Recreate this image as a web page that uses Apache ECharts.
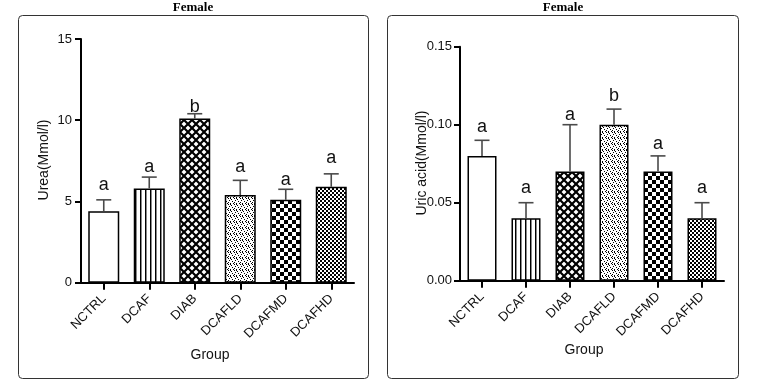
<!DOCTYPE html>
<html>
<head>
<meta charset="utf-8">
<script src="https://cdn.jsdelivr.net/npm/echarts@6/dist/echarts.min.js"></script>
<style>
html,body{margin:0;padding:0;background:#fff;}
#chart{width:758px;height:392px;}
</style>
</head>
<body>
<div id="chart"></div>
<script>
// ---- data ----
const categories = ['NCTRL', 'DCAF', 'DIAB', 'DCAFLD', 'DCAFMD', 'DCAFHD'];
const ureaMean = [4.4, 5.8, 10.1, 5.4, 5.1, 5.9];
const ureaErrTop = [5.1, 6.5, 10.4, 6.3, 5.75, 6.7];
const ureaLetters = ['a', 'a', 'b', 'a', 'a', 'a'];
const ureaLetterAt = [6.0, 7.13, 10.8, 7.13, 6.31, 7.66];
const uricMean = [0.08, 0.04, 0.07, 0.10, 0.07, 0.04];
const uricErrTop = [0.09, 0.05, 0.10, 0.11, 0.08, 0.05];
const uricLetters = ['a', 'a', 'a', 'b', 'a', 'a'];
const uricLetterAt = [0.0987, 0.0592, 0.1062, 0.1186, 0.0876, 0.0592];
const ureaTicks = [0, 5, 10, 15];
const uricTicks = ['0.00', '0.05', '0.10', '0.15'];

// ---- patterns ----
function tile(w, h, draw) {
  const c = document.createElement('canvas');
  c.width = w; c.height = h;
  const ctx = c.getContext('2d');
  ctx.fillStyle = '#fff'; ctx.fillRect(0, 0, w, h);
  ctx.fillStyle = '#000';
  draw(ctx);
  return { image: c, repeat: 'repeat' };
}
const patWhite = '#ffffff';
const patVert = tile(5, 5, ctx => { ctx.fillRect(0, 0, 1, 5); ctx.fillStyle = '#888'; ctx.fillRect(1, 0, 1, 5); });
const patCross = tile(8, 8, ctx => {
  ctx.strokeStyle = '#000'; ctx.lineWidth = 2.2;
  ctx.beginPath();
  ctx.moveTo(-1, -1); ctx.lineTo(9, 9);
  ctx.moveTo(9, -1); ctx.lineTo(-1, 9);
  ctx.stroke();
});
const patDots = tile(6, 6, ctx => {
  [[0,0],[3,1],[1,2],[4,3],[0,4],[2,5],[5,5],[2,0]].forEach(p => ctx.fillRect(p[0], p[1], 1, 1));
});
const patCheckBig = tile(8, 8, ctx => { ctx.fillRect(0, 0, 4, 4); ctx.fillRect(4, 4, 4, 4); });
const patCheckSmall = tile(4, 4, ctx => { ctx.fillRect(0, 0, 2, 2); ctx.fillRect(2, 2, 2, 2); });
const patterns = [patWhite, patVert, patCross, patDots, patCheckBig, patCheckSmall];

const FONT = 'Arial, "Liberation Sans", sans-serif';

function barData(vals) {
  return vals.map((v, i) => ({ value: v, itemStyle: { color: patterns[i] } }));
}
function errRender(params, api) {
  const i = api.value(0);
  const p0 = api.coord([i, api.value(1)]);
  const p1 = api.coord([i, api.value(2)]);
  const st = { stroke: '#4a4a4a', lineWidth: 1.6 };
  return {
    type: 'group',
    children: [
      { type: 'line', shape: { x1: p0[0], y1: p0[1], x2: p1[0], y2: p1[1] }, style: st },
      { type: 'line', shape: { x1: p1[0] - 7.5, y1: p1[1], x2: p1[0] + 7.5, y2: p1[1] }, style: st }
    ]
  };
}
function letterRender(letters) {
  return function (params, api) {
    const i = api.value(0);
    const p = api.coord([i, api.value(1)]);
    return {
      type: 'text', x: p[0], y: p[1],
      style: { text: letters[params.dataIndex], fontSize: 18, fontFamily: FONT, fill: '#111', align: 'center', verticalAlign: 'middle' }
    };
  };
}

const axisLine = { show: true, lineStyle: { color: '#000', width: 2 } };
const axisTick = { show: true, length: 6, lineStyle: { color: '#000', width: 2 } };

const chart = echarts.init(document.getElementById('chart'), null, { renderer: 'canvas' });
chart.setOption({
  backgroundColor: '#fff',
  animation: false,
  grid: [
    { left: 81, right: 404, top: 39, bottom: 109.3, outerBoundsMode: 'none' },
    { left: 460, right: 34, top: 46.7, bottom: 111.3, outerBoundsMode: 'none' }
  ],
  xAxis: [0, 1].map(g => ({
    type: 'category', gridIndex: g, data: categories,
    axisLine: axisLine,
    axisTick: Object.assign({ alignWithLabel: true }, axisTick, { length: 7 }),
    axisLabel: { rotate: 45, fontSize: 13, fontFamily: FONT, color: '#111', margin: 14, interval: 0 },
    splitLine: { show: false }
  })),
  yAxis: [
    {
      type: 'value', gridIndex: 0, min: 0, max: 15, interval: 5,
      axisLine: axisLine, axisTick: axisTick, splitLine: { show: false },
      axisLabel: { fontSize: 13, fontFamily: FONT, color: '#111', margin: 9,
        formatter: v => String(ureaTicks[Math.round(v / 5)]) }
    },
    {
      type: 'value', gridIndex: 1, min: 0, max: 0.15, interval: 0.05,
      axisLine: axisLine, axisTick: axisTick, splitLine: { show: false },
      axisLabel: { fontSize: 13, fontFamily: FONT, color: '#111', margin: 8,
        formatter: v => uricTicks[Math.round(v / 0.05)] }
    }
  ],
  series: [
    { type: 'bar', xAxisIndex: 0, yAxisIndex: 0, barWidth: 31, data: barData(ureaMean),
      itemStyle: { borderColor: '#000', borderWidth: 1.5 }, z: 2 },
    { type: 'custom', xAxisIndex: 0, yAxisIndex: 0, renderItem: errRender,
      data: ureaMean.map((v, i) => [i, v, ureaErrTop[i]]), z: 3 },
    { type: 'custom', xAxisIndex: 0, yAxisIndex: 0, renderItem: letterRender(ureaLetters),
      data: ureaLetterAt.map((v, i) => [i, v]), z: 4 },
    { type: 'bar', xAxisIndex: 1, yAxisIndex: 1, barWidth: 29, data: barData(uricMean),
      itemStyle: { borderColor: '#000', borderWidth: 1.5 }, z: 2 },
    { type: 'custom', xAxisIndex: 1, yAxisIndex: 1, renderItem: errRender,
      data: uricMean.map((v, i) => [i, v, uricErrTop[i]]), z: 3 },
    { type: 'custom', xAxisIndex: 1, yAxisIndex: 1, renderItem: letterRender(uricLetters),
      data: uricLetterAt.map((v, i) => [i, v]), z: 4 }
  ],
  graphic: [
    { type: 'rect', shape: { x: 18.5, y: 15.5, width: 350, height: 363, r: 4 }, style: { fill: 'none', stroke: '#333', lineWidth: 1 }, z: 0 },
    { type: 'rect', shape: { x: 387.5, y: 15.5, width: 351, height: 363, r: 4 }, style: { fill: 'none', stroke: '#333', lineWidth: 1 }, z: 0 },
    { type: 'text', x: 193, y: 8, style: { text: 'Female', font: 'bold 13px "Liberation Serif", "Times New Roman", serif', fill: '#000', align: 'center', verticalAlign: 'middle' } },
    { type: 'text', x: 563, y: 8, style: { text: 'Female', font: 'bold 13px "Liberation Serif", "Times New Roman", serif', fill: '#000', align: 'center', verticalAlign: 'middle' } },
    { type: 'text', x: 44, y: 160, rotation: Math.PI / 2, style: { text: 'Urea(Mmol/l)', fontSize: 14, fontFamily: FONT, fill: '#111', align: 'center', verticalAlign: 'middle' } },
    { type: 'text', x: 422, y: 163, rotation: Math.PI / 2, style: { text: 'Uric acid(Mmol/l)', fontSize: 14, fontFamily: FONT, fill: '#111', align: 'center', verticalAlign: 'middle' } },
    { type: 'text', x: 210, y: 355, style: { text: 'Group', fontSize: 14, fontFamily: FONT, fill: '#111', align: 'center', verticalAlign: 'middle' } },
    { type: 'text', x: 584, y: 350, style: { text: 'Group', fontSize: 14, fontFamily: FONT, fill: '#111', align: 'center', verticalAlign: 'middle' } }
  ]
});
</script>
</body>
</html>
